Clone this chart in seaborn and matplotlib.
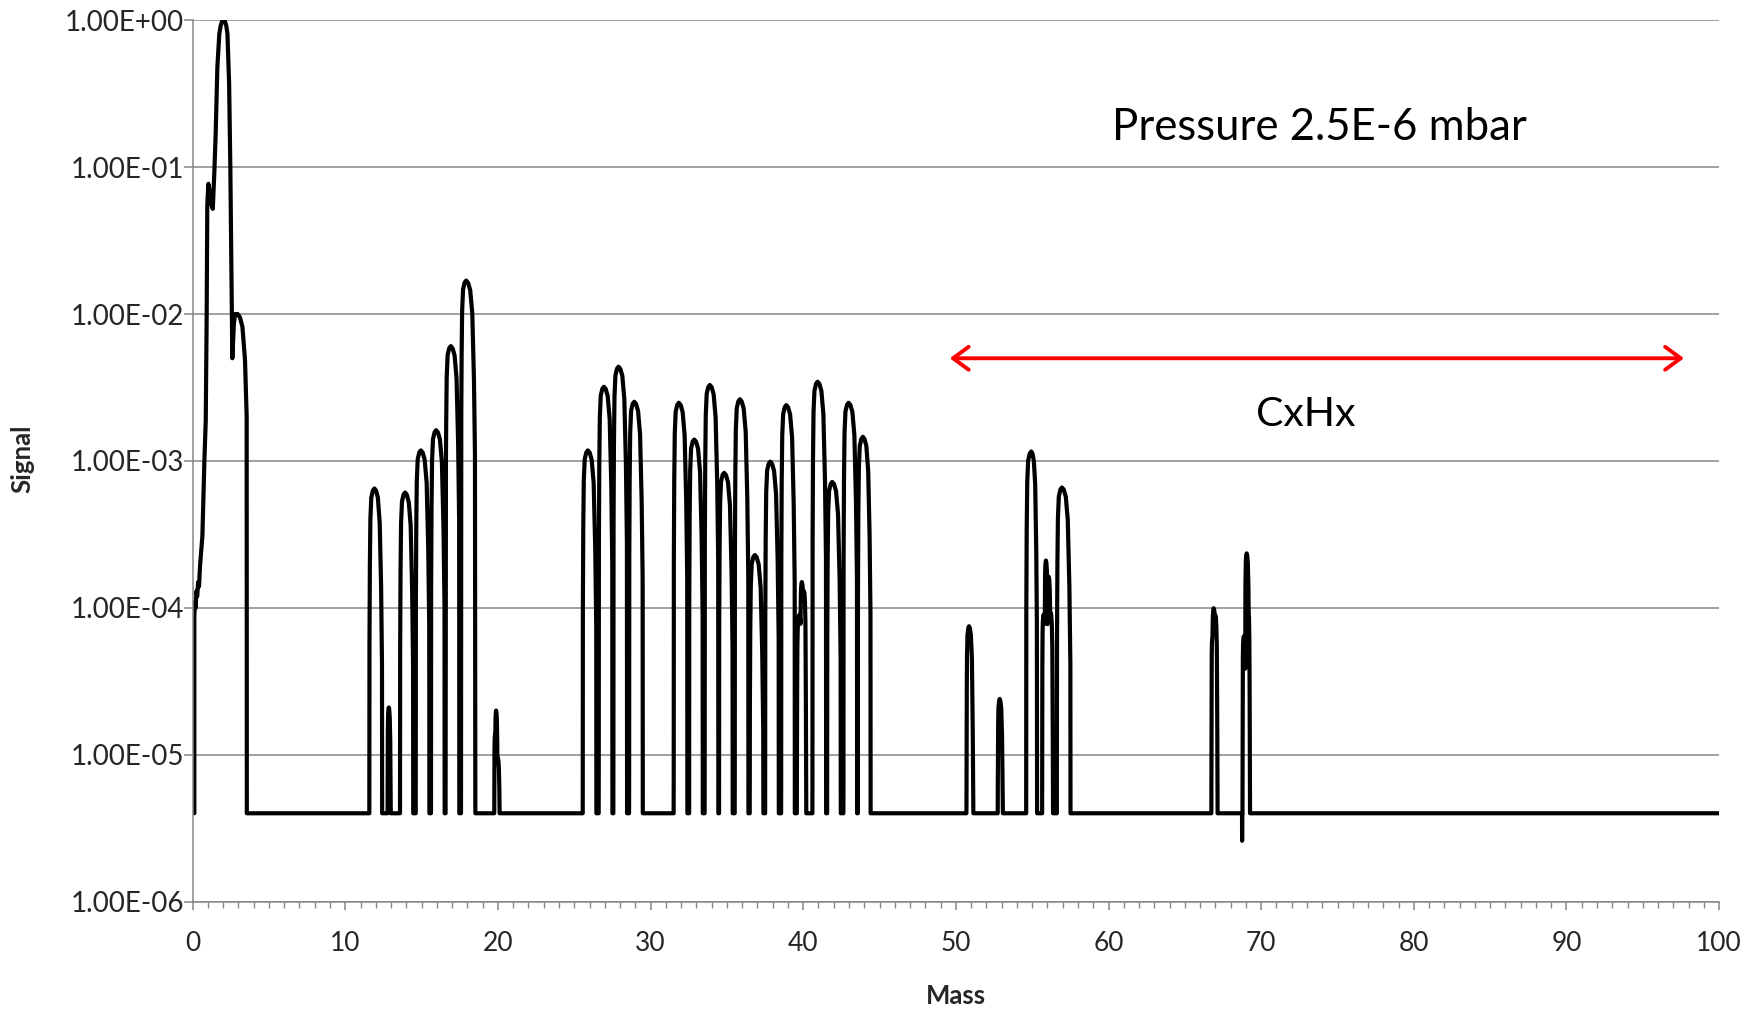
import numpy as np
import pandas as pd
import matplotlib
matplotlib.use("Agg")
import matplotlib.pyplot as plt
import matplotlib.ticker as mticker
from matplotlib.patches import ArrowStyle
import seaborn as sns

# ---- Low-mass trace (H / H2 / H3 region), recorded point by point ----
low_mass = [0.11, 0.11, 0.15, 0.20, 0.25, 0.30, 0.36, 0.42, 0.48, 0.64, 0.77, 0.86,
            0.92, 0.96, 1.03, 1.12, 1.22, 1.32, 1.42, 1.51, 1.62, 1.75, 1.85, 1.95,
            2.03, 2.12, 2.20, 2.28, 2.39, 2.47, 2.56, 2.60, 2.70, 2.78, 2.95, 3.10,
            3.26, 3.43, 3.54, 3.55]
low_signal = [4e-6, 8.7e-5, 1.1e-4, 1.0e-4, 1.3e-4, 1.2e-4, 1.5e-4, 1.4e-4, 1.9e-4, 3.1e-4, 1.0e-3, 1.9e-3,
              1.0e-2, 5.5e-2, 7.7e-2, 6.8e-2, 5.6e-2, 5.2e-2, 9.1e-2, 0.17, 0.48, 0.81, 0.93, 0.99,
              1.0, 0.98, 0.92, 0.81, 0.37, 0.10, 1.25e-2, 5.0e-3, 8.5e-3, 1.0e-2, 1.0e-2, 9.5e-3,
              8.2e-3, 4.9e-3, 2.0e-3, 4e-6]

# ---- Peak table above mass 4: apex position, apex signal, left / right width factors ----
peak_mass = [11.91, 12.85, 13.92, 14.95, 15.95, 16.91, 17.92, 19.82, 19.88, 20.00,
             25.89, 26.94, 27.90, 28.93, 31.85, 32.86, 33.88, 34.82, 35.85, 36.83,
             37.84, 38.89, 39.75, 39.91, 40.05, 40.94, 41.90, 42.97, 43.91,
             50.86, 52.87, 54.94, 55.75, 55.90, 56.08, 56.22, 56.95,
             66.82, 66.89, 67.00, 68.86, 69.05, 69.15]
peak_signal = [6.5e-4, 2.1e-5, 6.1e-4, 1.18e-3, 1.62e-3, 6.05e-3, 1.69e-2, 1.4e-5, 2.0e-5, 9.5e-6,
               1.18e-3, 3.2e-3, 4.38e-3, 2.53e-3, 2.49e-3, 1.4e-3, 3.29e-3, 8.3e-4, 2.63e-3, 2.29e-4,
               9.9e-4, 2.4e-3, 9.0e-5, 1.5e-4, 1.3e-4, 3.46e-3, 7.2e-4, 2.49e-3, 1.46e-3,
               7.5e-5, 2.4e-5, 1.16e-3, 9.0e-5, 2.1e-4, 1.63e-4, 9.2e-5, 6.6e-4,
               6.5e-5, 9.95e-5, 8.9e-5, 6.4e-5, 2.35e-4, 1.0e-4]
peak_wl = [1.0, 0.25, 1.0, 1.0, 1.0, 1.0, 1.0, 0.2, 0.2, 0.25,
           1.0, 1.0, 1.0, 1.0, 1.0, 1.0, 1.0, 1.0, 1.0, 1.0,
           1.0, 1.0, 0.5, 0.3, 0.3, 1.0, 1.0, 1.0, 1.0,
           0.5, 0.4, 1.0, 0.3, 0.25, 0.25, 0.25, 1.0,
           0.25, 0.3, 0.25, 0.25, 0.3, 0.25]
peak_wr = [0.9, 0.25, 0.95, 1.0, 1.0, 1.0, 1.05, 0.2, 0.2, 0.25,
           1.0, 1.0, 1.0, 1.0, 1.0, 1.0, 1.0, 1.0, 1.0, 1.0,
           1.0, 1.0, 0.3, 0.3, 0.25, 1.0, 1.0, 1.0, 0.9,
           0.5, 0.4, 0.67, 0.3, 0.25, 0.25, 0.25, 1.0,
           0.25, 0.3, 0.25, 0.25, 0.3, 0.2]

# Instrument peak profile: offset from apex (mass units) and drop below apex (decades)
profile_offset = [-0.34, -0.33, -0.31, -0.27, -0.21, -0.11, 0.0, 0.12, 0.25, 0.38, 0.48, 0.55, 0.56]
profile_drop = [4.0, 1.2, 0.63, 0.22, 0.063, 0.015, 0.0, 0.015, 0.063, 0.22, 0.63, 1.2, 4.0]

# Detector floor and the single sub-floor excursion
baseline = 4e-6
dip_mass = [68.75]
dip_signal = [2.6e-6]

# Axis text
y_ticks = [1e-6, 1e-5, 1e-4, 1e-3, 1e-2, 1e-1, 1e0]
x_label = "Mass"
y_label = "Signal"
pressure_text = "Pressure 2.5E-6 mbar"
group_text = "CxHx"
group_range = (49.6, 97.7)
group_level = 5e-3

# ---- Build the scan trace above mass 4 from the peak table ----
mass = np.round(np.arange(3.56, 100.0001, 0.005), 3)
signal = np.full_like(mass, baseline)
for m, h, wl, wr in zip(peak_mass, peak_signal, peak_wl, peak_wr):
    rel = mass - m
    u = np.where(rel < 0, rel / wl, rel / wr)
    drop = np.interp(u, profile_offset, profile_drop, left=6.0, right=6.0)
    signal = np.maximum(signal, h * 10.0 ** (-drop))
for dm, ds in zip(dip_mass, dip_signal):
    idx = np.argmin(np.abs(mass - dm))
    signal[idx] = ds

scan = pd.DataFrame({
    "Mass": np.concatenate([low_mass, mass]),
    "Signal": np.concatenate([low_signal, signal]),
})

# ---- Figure ----
sns.set_theme(style="white")
plt.rcParams["font.family"] = ["Lato", "DejaVu Sans"]

grid_grey = "#868686"
fig, ax = plt.subplots(figsize=(17.56, 10.10), dpi=100)
fig.subplots_adjust(left=0.1097, right=0.979, top=0.980, bottom=0.1072)

sns.lineplot(data=scan, x="Mass", y="Signal", ax=ax, color="black", lw=3.0,
             estimator=None, sort=False, solid_joinstyle="round")

ax.set_yscale("log")
ax.set_xlim(0, 100)
ax.set_ylim(1e-6, 1e0)

ax.set_yticks(y_ticks)
ax.yaxis.set_major_formatter(mticker.FuncFormatter(lambda v, p: f"{v:.2E}"))
ax.yaxis.set_minor_locator(mticker.NullLocator())
ax.xaxis.set_major_locator(mticker.MultipleLocator(10))
ax.xaxis.set_minor_locator(mticker.MultipleLocator(1))

ax.yaxis.grid(True, which="major", color=grid_grey, lw=1.1)
ax.xaxis.grid(False)
ax.set_axisbelow(True)

for side in ("top", "right"):
    ax.spines[side].set_visible(False)
for side in ("left", "bottom"):
    ax.spines[side].set_color(grid_grey)
    ax.spines[side].set_linewidth(1.1)

ax.tick_params(axis="y", which="major", direction="out", length=6.3, width=1.1,
               color=grid_grey, pad=0, labelsize=20, left=True)
ax.tick_params(axis="x", which="major", direction="out", length=6, width=1.1,
               color=grid_grey, pad=15, labelsize=19, bottom=True)
ax.tick_params(axis="x", which="minor", direction="out", length=4, width=1.0,
               color=grid_grey, bottom=True)

ax.set_xlabel(x_label, fontsize=18.5, fontweight="bold", va="center")
ax.set_ylabel(y_label, fontsize=18.5, fontweight="bold", va="center")
ax.xaxis.set_label_coords(0.5, -0.107)
ax.yaxis.set_label_coords(-0.1118, 0.502)

ax.text(73.8, 0.187, pressure_text, ha="center", va="center", fontsize=31.5, color="black")
ax.text(72.9, 2.06e-3, group_text, ha="center", va="center", fontsize=29.5, color="black")

ax.annotate("", xy=(group_range[0], group_level), xytext=(group_range[1], group_level),
            arrowprops=dict(arrowstyle=ArrowStyle("<->", head_length=0.45, head_width=0.33),
                            color="red", lw=2.8, mutation_scale=25,
                            shrinkA=0, shrinkB=0))

fig.savefig("out.png", dpi=100)
